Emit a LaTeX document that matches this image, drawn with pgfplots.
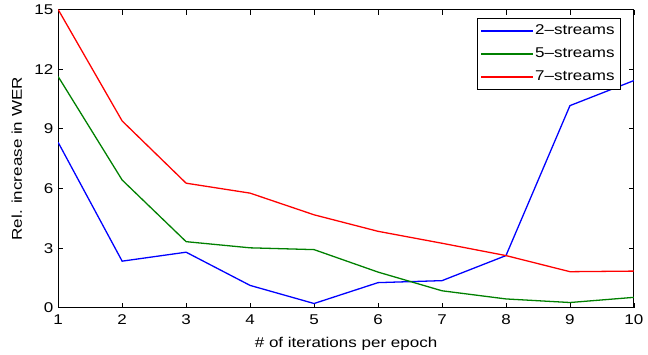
\documentclass[border=0pt]{standalone}
\usepackage{fontspec}
\setmainfont{Liberation Sans}[FakeStretch=1.2]
\usepackage{pgfplots}
\pgfplotsset{compat=1.18}
\definecolor{mblue}{rgb}{0,0,1}
\definecolor{mgreen}{rgb}{0,0.5,0}
\definecolor{mred}{rgb}{1,0,0}
\begin{document}
\fontsize{14}{16}\selectfont
\begin{tikzpicture}
\begin{axis}[
  scale only axis,
  width=579bp, height=300bp,
  at={(0,0)}, anchor=south west,
  xmin=1, xmax=10, ymin=0, ymax=15,
  xtick={1,...,10},
  ytick={0,3,6,9,12,15},
  tick align=inside,
  major tick length=5bp,
  tick style={black, line width=0.8bp},
  axis line style={black, line width=1bp},
  /pgf/number format/assume math mode=true,
  tick label style={font=\fontsize{14.3}{16}\selectfont},
  xticklabel style={yshift=-2bp},
  xlabel={\# of iterations per epoch},
  ylabel={Rel. increase in WER},
  label style={font=\fontsize{14.3}{16}\selectfont},
  xlabel style={at={(axis description cs:0.5,0)}, anchor=center, yshift=-36bp},
  ylabel style={at={(axis description cs:0,0.5)}, anchor=center, yshift=41.5bp},
  legend style={at={(rel axis cs:0.9775,0.9717)}, anchor=north east,
    line width=1bp, font=\fontsize{14.3}{16}\selectfont,
    row sep=4.5bp, inner xsep=4bp, inner ysep=3.5bp,
    nodes={text height=11bp, text depth=3.5bp}},
  legend cell align=left,
  legend image code/.code={\fill[#1, draw=none] (0bp,-0.7bp) rectangle (52bp,0.7bp);},
  every axis plot/.append style={line width=1.3bp, mark=none},
]
\addplot[mblue] coordinates {
(1,8.32) (2,2.35) (3,2.80) (4,1.13) (5,0.22) (6,1.27) (7,1.37) (8,2.63) (9,10.17) (10,11.43)};
\addlegendentry{2–streams}
\addplot[mgreen] coordinates {
(1,11.63) (2,6.43) (3,3.33) (4,3.02) (5,2.93) (6,1.80) (7,0.86) (8,0.45) (9,0.27) (10,0.53)};
\addlegendentry{5–streams}
\addplot[mred] coordinates {
(1,15.0) (2,9.40) (3,6.27) (4,5.77) (5,4.68) (6,3.85) (7,3.25) (8,2.63) (9,1.82) (10,1.85)};
\addlegendentry{7–streams}
\end{axis}
\path[use as bounding box] (-58.5bp,-47bp) rectangle (589.5bp,309bp);
\end{tikzpicture}
\end{document}
